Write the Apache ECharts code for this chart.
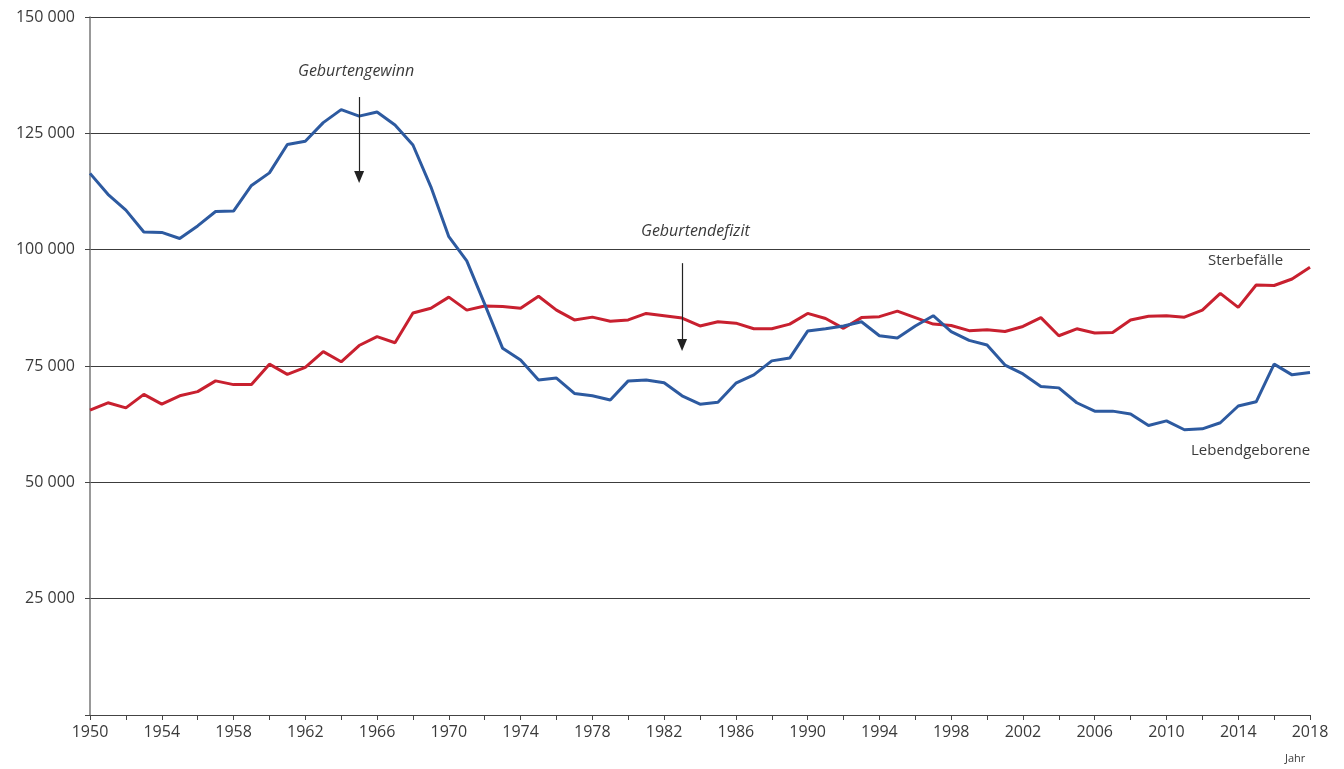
<!DOCTYPE html>
<html>
<head>
<meta charset="utf-8">
<script src="https://cdn.jsdelivr.net/npm/echarts@6/dist/echarts.min.js"></script>
<style>html,body{margin:0;padding:0;background:#fff}#c{width:1344px;height:769px}</style>
</head>
<body>
<div id="c"></div>
<script>
var years = [];
for (var y = 1950; y <= 2018; y++) years.push(String(y));

var lebendgeborene = [
116400,111900,108500,103800,103700,102400,105100,108200,108300,113800,
116500,122600,123300,127300,130100,128700,129600,126800,122500,113500,
102800,97600,88300,78800,76300,72000,72400,69100,68600,67700,
71800,72000,71400,68600,66800,67200,71300,73100,76100,76700,
82500,83000,83600,84500,81500,81000,83600,85800,82400,80500,
79500,75200,73300,70600,70300,67100,65300,65300,64700,62200,
63200,61300,61500,62800,66400,67300,75400,73100,73600
];
var sterbefaelle = [
65500,67100,66000,68900,66800,68600,69500,71800,71000,71000,
75400,73200,74700,78100,75900,79400,81300,80000,86400,87400,
89800,87000,87900,87800,87400,90000,87000,84900,85500,84600,
84900,86300,85800,85300,83600,84500,84200,83000,83000,84000,
86300,85200,83100,85400,85600,86800,85400,84000,83700,82600,
82800,82400,83500,85400,81500,83000,82100,82200,84900,85700,
85800,85500,87000,90600,87600,92400,92300,93700,96200
];
var yTicks = [0, 25000, 50000, 75000, 100000, 125000, 150000];

var FONT = '"Open Sans", "Noto Sans", sans-serif';
var chart = echarts.init(document.getElementById('c'), null, {renderer: 'canvas'});
chart.setOption({
  animation: false,
  backgroundColor: '#fff',
  grid: {left: 90, right: 34, top: 17, bottom: 54, containLabel: false},
  xAxis: {
    type: 'category',
    data: years,
    boundaryGap: false,
    axisLine: {lineStyle: {color: '#444', width: 1}},
    axisTick: {interval: 1, length: 5, lineStyle: {color: '#444'}},
    axisLabel: {interval: 3, color: '#3a3a3a', fontSize: 16, fontFamily: FONT, margin: 9},
    splitLine: {show: false}
  },
  yAxis: {
    type: 'value',
    min: yTicks[0],
    max: yTicks[yTicks.length - 1],
    interval: 25000,
    axisLine: {show: true, lineStyle: {color: '#777', width: 1.5}},
    axisTick: {show: true, inside: false, length: 5, lineStyle: {color: '#444'}},
    axisLabel: {
      color: '#3a3a3a', fontSize: 16, fontFamily: FONT, margin: 15,
      formatter: function (v) {
        if (v === 0) return '';
        return String(v).replace(/\B(?=(\d{3})+(?!\d))/g, ' ');
      }
    },
    splitLine: {show: true, lineStyle: {color: '#3c3c3c', width: 1}}
  },
  series: [
    {
      name: 'Sterbefälle',
      type: 'line',
      data: sterbefaelle,
      symbol: 'none',
      lineStyle: {color: '#c8202f', width: 3},
      itemStyle: {color: '#c8202f'},
      z: 3
    },
    {
      name: 'Lebendgeborene',
      type: 'line',
      data: lebendgeborene,
      symbol: 'none',
      lineStyle: {color: '#2d5aa0', width: 3},
      itemStyle: {color: '#2d5aa0'},
      z: 4,
      markLine: {
        silent: true,
        symbol: ['none', 'triangle'],
        symbolSize: [10, 12],
        label: {show: false},
        lineStyle: {color: '#222', width: 1.2, type: 'solid'},
        data: [
          [{coord: ['1965', 132800]}, {coord: ['1965', 115600]}],
          [{coord: ['1983', 97100]}, {coord: ['1983', 79500]}]
        ]
      }
    }
  ],
  graphic: [
    {type: 'text', left: 298, top: 63, style: {text: 'Geburtengewinn', font: 'italic 16px ' + FONT, fill: '#3a3a3a'}},
    {type: 'text', left: 641, top: 223, style: {text: 'Geburtendefizit', font: 'italic 16px ' + FONT, fill: '#3a3a3a'}},
    {type: 'text', left: 1208, top: 253, style: {text: 'Sterbefälle', font: '15px ' + FONT, fill: '#3a3a3a'}},
    {type: 'text', left: 1191, top: 443, style: {text: 'Lebendgeborene', font: '15px ' + FONT, fill: '#3a3a3a'}},
    {type: 'text', left: 1285, top: 753, style: {text: 'Jahr', font: '11px ' + FONT, fill: '#3a3a3a'}}
  ]
});
</script>
</body>
</html>
